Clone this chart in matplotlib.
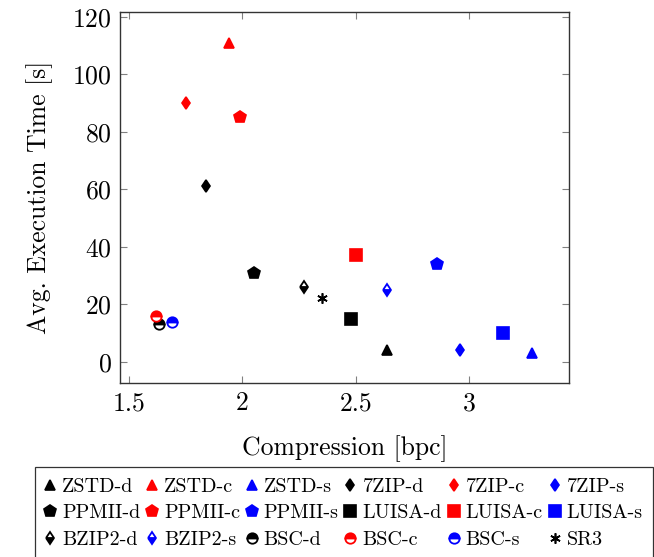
import numpy as np
import matplotlib.pyplot as plt

plt.rcParams['font.family'] = 'cmr10'
plt.rcParams['mathtext.fontset'] = 'cm'
plt.rcParams['axes.formatter.use_mathtext'] = True

# ===========
# DATA
# ===========
names = ["ZSTD-d", "ZSTD-c", "ZSTD-s", "7ZIP-d", "7ZIP-c", "7ZIP-s",
         "PPMII-d", "PPMII-c", "PPMII-s", "LUISA-d", "LUISA-c", "LUISA-s",
         "BZIP2-d", "BZIP2-s", "BSC-d", "BSC-c", "BSC-s", "SR3"]
compression = [2.64, 1.94, 3.28, 1.84, 1.75, 2.96,
               2.05, 1.99, 2.86, 2.48, 2.50, 3.15,
               2.27, 2.64, 1.63, 1.62, 1.69, 2.35]
exec_time = [4, 111, 3, 61, 90, 4,
             31, 85, 34, 15, 37, 10,
             26, 25, 13, 16, 14, 22]

xticks = [1.5, 2, 2.5, 3]
xtick_labels = ["1.5", "2", "2.5", "3"]
yticks = [0, 20, 40, 60, 80, 100, 120]

# marker styles per entry
RED, BLUE, BLACK = "#ff0000", "#0000ff", "#000000"
styles = {
    "ZSTD-d": dict(marker="^", color=BLACK, ms=7.5),
    "ZSTD-c": dict(marker="^", color=RED, ms=7.5),
    "ZSTD-s": dict(marker="^", color=BLUE, ms=7.5),
    "7ZIP-d": dict(marker="d", color=BLACK, ms=6.3),
    "7ZIP-c": dict(marker="d", color=RED, ms=6.3),
    "7ZIP-s": dict(marker="d", color=BLUE, ms=6.3),
    "PPMII-d": dict(marker="p", color=BLACK, ms=9),
    "PPMII-c": dict(marker="p", color=RED, ms=9),
    "PPMII-s": dict(marker="p", color=BLUE, ms=9),
    "LUISA-d": dict(marker="s", color=BLACK, ms=8),
    "LUISA-c": dict(marker="s", color=RED, ms=8),
    "LUISA-s": dict(marker="s", color=BLUE, ms=8),
    "BZIP2-d": dict(marker="d", color=BLACK, ms=6.3, fill="bottom"),
    "BZIP2-s": dict(marker="d", color=BLUE, ms=6.3, fill="bottom"),
    "BSC-d": dict(marker="o", color=BLACK, ms=7.5, fill="top"),
    "BSC-c": dict(marker="o", color=RED, ms=7.5, fill="top"),
    "BSC-s": dict(marker="o", color=BLUE, ms=7.5, fill="top"),
    "SR3": dict(marker=(6, 2, 0), color=BLACK, ms=7.5),
}


def kw(name):
    s = styles[name]
    d = dict(marker=s["marker"], markersize=s["ms"], color=s["color"],
             markeredgecolor=s["color"], markerfacecolor=s["color"],
             linestyle="none", markeredgewidth=1.2)
    if "fill" in s:
        d["fillstyle"] = s["fill"]
        d["markerfacecoloralt"] = "white"
        d["markeredgewidth"] = 1.3
    return d


fig = plt.figure(figsize=(6.54, 5.57), dpi=100)
ax = fig.add_axes([0.1835, 0.3118, 0.687, 0.667])

handles = []
for n, x, y in zip(names, compression, exec_time):
    h, = ax.plot([x], [y], label=n, **kw(n))
    handles.append(h)

ax.set_xlim(1.46, 3.443)
ax.set_ylim(-7.5, 121.7)
ax.set_xticks(xticks)
ax.set_xticklabels(xtick_labels)
ax.set_yticks(yticks)
ax.tick_params(direction="in", top=True, right=True, length=5, width=0.8,
               color="#808080", labelsize=18.5, pad=6)
for sp in ax.spines.values():
    sp.set_linewidth(1.0)
    sp.set_color("#333333")

ax.set_xlabel("Compression [bpc]", fontsize=18.5, labelpad=14)
ax.set_ylabel("Avg. Execution Time [s]", fontsize=18.5, labelpad=14)

# legend in row-major order (matplotlib fills column-major)
ncol, nrow = 6, 3
order = [r * ncol + c for c in range(ncol) for r in range(nrow)]
leg = fig.legend([handles[i] for i in order], [names[i] for i in order],
                 loc="upper center", bbox_to_anchor=(0.5257, 0.1607), ncol=ncol,
                 fontsize=14.5, frameon=True, fancybox=False, edgecolor="black",
                 handlelength=0.5, handletextpad=0.35, columnspacing=0.33,
                 labelspacing=0.42, borderpad=0.5, borderaxespad=0)
leg.get_frame().set_linewidth(0.9)

fig.savefig("out.png", dpi=100)
